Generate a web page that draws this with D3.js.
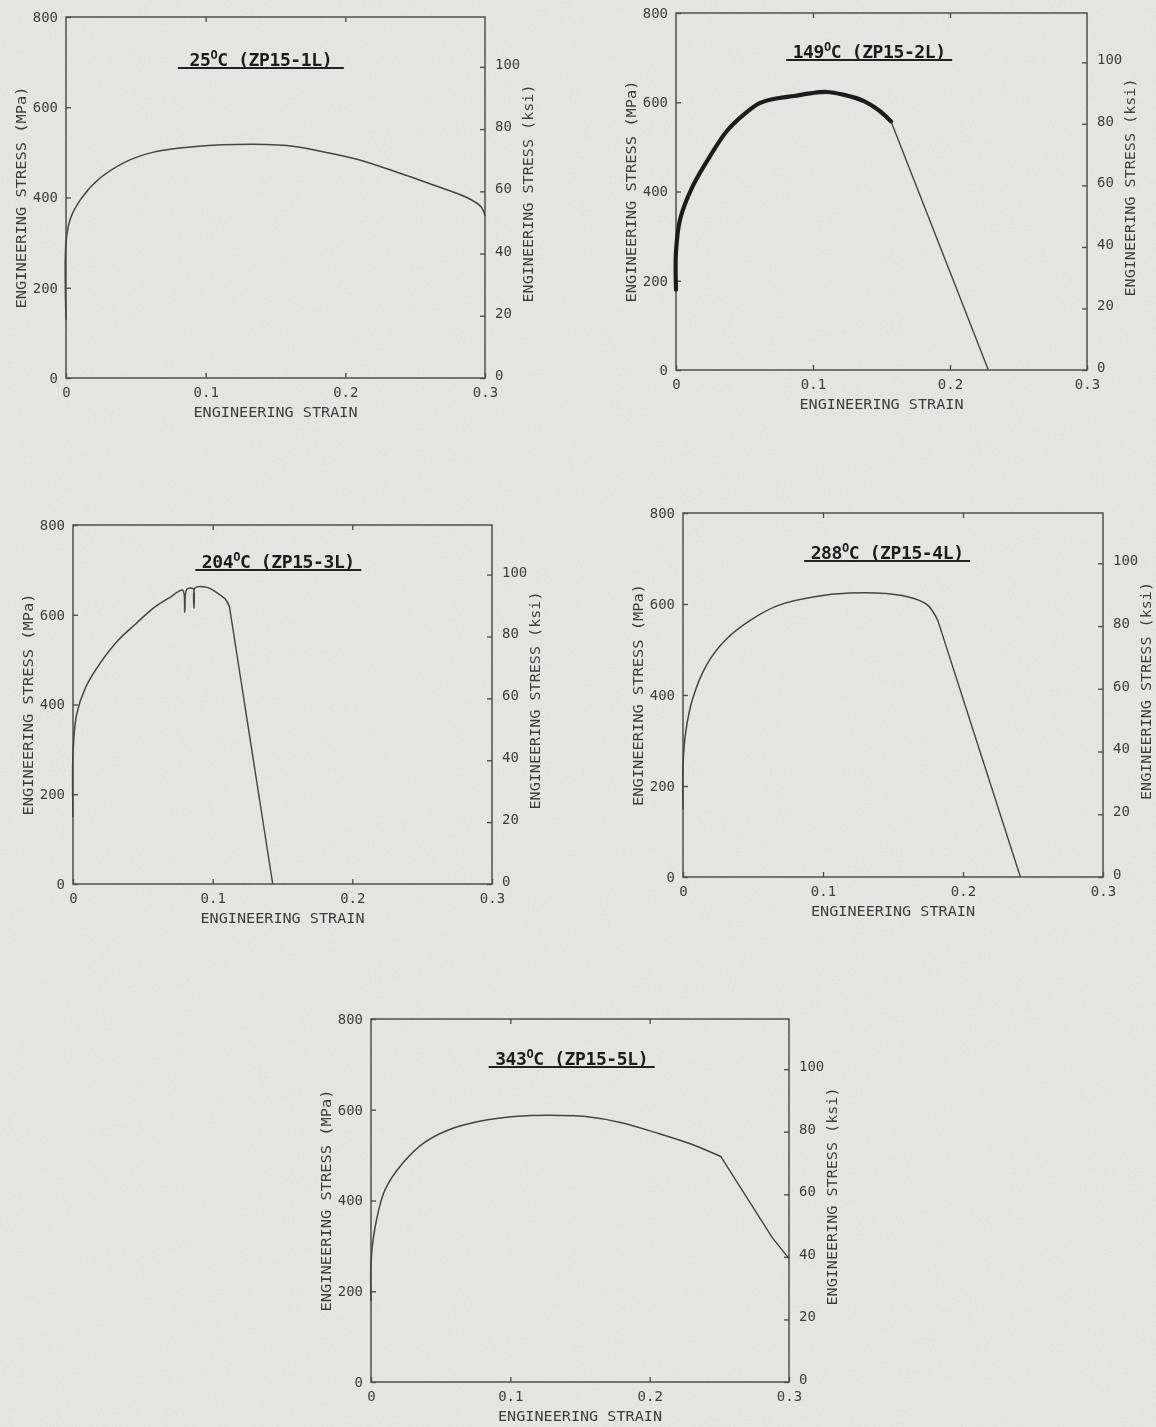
<!DOCTYPE html>
<html>
<head>
<meta charset="utf-8">
<script src="https://cdn.jsdelivr.net/npm/d3@7"></script>
<style>
  body { margin: 0; background: #e7e7e5; }
  svg { display: block; }
</style>
</head>
<body>
<svg id="chart" width="1156" height="1427"></svg>
<script>
// axis ticks
const strainTicks = [0, 0.1, 0.2, 0.3];
const mpaTicks = [0, 200, 400, 600, 800];
const ksiTicks = [0, 20, 40, 60, 80, 100];
const MPA_PER_KSI = 6.895;

// [engineering strain, engineering stress MPa]
const curve25 = [[0, 130], [0, 300], [0.003, 352], [0.011, 398], [0.024, 442], [0.042, 478], [0.062, 500],
  [0.093, 513], [0.132, 518], [0.158, 515], [0.183, 502], [0.209, 484], [0.235, 458], [0.261, 430],
  [0.287, 400], [0.297, 380], [0.300, 360]];
const curve149 = [[0, 180], [0, 265], [0.003, 338], [0.0124, 413], [0.025, 480], [0.037, 535], [0.049, 571],
  [0.061, 598], [0.074, 609], [0.086, 614], [0.098, 620], [0.110, 623], [0.122, 617], [0.1375, 602],
  [0.148, 582], [0.157, 557], [0.228, 0]];
const curve204 = [[0, 150], [0, 290], [0.0026, 378], [0.009, 438], [0.019, 490], [0.032, 542], [0.045, 580],
  [0.058, 616], [0.070, 640], [0.0785, 655], [0.080, 606], [0.0815, 657], [0.086, 658], [0.0866, 615],
  [0.0875, 660], [0.096, 661], [0.1016, 652], [0.109, 635], [0.112, 618], [0.143, 0]];
const curve288 = [[0, 150], [0, 245], [0.002, 320], [0.007, 393], [0.017, 467], [0.030, 520], [0.048, 564],
  [0.068, 597], [0.094, 616], [0.119, 624], [0.145, 623], [0.165, 612], [0.175, 597], [0.182, 564],
  [0.241, 0]];
const curve343 = [[0, 180], [0, 262], [0.0026, 335], [0.010, 423], [0.023, 483], [0.038, 527], [0.056, 556],
  [0.077, 574], [0.103, 585], [0.128, 588], [0.154, 585], [0.179, 572], [0.205, 549], [0.231, 523],
  [0.251, 497], [0.270, 405], [0.288, 318], [0.300, 272]];

// breakAt = strain where the smooth curve turns into a straight drop
const panels = [
  { temp: "25", spec: "ZP15-1L", data: curve25, left: 66, top: 17, right: 485, bottom: 378, tx: 0.465, ty: 49, breakAt: 1 },
  { temp: "149", spec: "ZP15-2L", data: curve149, left: 676, top: 13, right: 1087, bottom: 370, tx: 0.47, ty: 45, breakAt: 0.157, heavy: true },
  { temp: "204", spec: "ZP15-3L", data: curve204, left: 73, top: 525, right: 492, bottom: 884, tx: 0.49, ty: 43, breakAt: 0.112 },
  { temp: "288", spec: "ZP15-4L", data: curve288, left: 683, top: 513, right: 1103, bottom: 877, tx: 0.486, ty: 46, breakAt: 0.182 },
  { temp: "343", spec: "ZP15-5L", data: curve343, left: 371, top: 1019, right: 789, bottom: 1382, tx: 0.48, ty: 46, breakAt: 0.251 }
];

const FONT = "'DejaVu Sans Mono', 'Liberation Mono', monospace";
const INK = "#3e3e3e";

const svg = d3.select("#chart");

// scanned paper look
const defs = svg.append("defs");
const grain = defs.append("filter").attr("id", "grain");
grain.append("feTurbulence").attr("type", "fractalNoise").attr("baseFrequency", 0.85)
  .attr("numOctaves", 2).attr("seed", 4);
grain.append("feColorMatrix").attr("type", "matrix")
  .attr("values", "0 0 0 0 0.4  0 0 0 0 0.4  0 0 0 0 0.4  0 0 0 0.22 -0.06");
defs.append("filter").attr("id", "soft")
  .append("feGaussianBlur").attr("stdDeviation", 0.45);

svg.append("rect").attr("width", 1156).attr("height", 1427).attr("fill", "#e7e7e5");
svg.append("rect").attr("width", 1156).attr("height", 1427).attr("filter", "url(#grain)");

const root = svg.append("g").attr("filter", "url(#soft)");

const fmtStrain = d => d === 0 ? "0" : d3.format(".1f")(d);

panels.forEach(p => {
  const w = p.right - p.left, h = p.bottom - p.top;
  const g = root.append("g").attr("transform", `translate(${p.left},${p.top})`);

  const x = d3.scaleLinear().domain([0, 0.3]).range([0, w]);
  const y = d3.scaleLinear().domain([0, 800]).range([h, 0]);
  const yk = d3.scaleLinear().domain([0, 800 / MPA_PER_KSI]).range([h, 0]);

  // frame
  g.append("rect").attr("width", w).attr("height", h)
    .attr("fill", "none").attr("stroke", "#505050").attr("stroke-width", 1.5);

  const styleAxis = sel => {
    sel.select(".domain").remove();
    sel.attr("font-family", FONT).attr("font-size", 14);
    sel.selectAll(".tick line").attr("stroke", "#505050").attr("stroke-width", 1.4);
    sel.selectAll(".tick text").attr("fill", INK);
  };

  g.append("g")
    .call(d3.axisLeft(y).tickValues(mpaTicks).tickSizeInner(-5).tickSizeOuter(0).tickPadding(8))
    .call(styleAxis);

  // ksi labels sit a little above their ticks, as in the scan
  g.append("g").attr("transform", `translate(${w},0)`)
    .call(d3.axisRight(yk).tickValues(ksiTicks).tickSizeInner(-5).tickSizeOuter(0).tickPadding(10))
    .call(styleAxis)
    .call(s => s.selectAll(".tick text").attr("y", -3));

  g.append("g").attr("transform", `translate(0,${h})`)
    .call(d3.axisBottom(x).tickValues(strainTicks).tickFormat(fmtStrain)
      .tickSizeInner(-5).tickSizeOuter(0).tickPadding(9))
    .call(styleAxis);

  g.append("g")
    .call(d3.axisTop(x).tickValues([0.1, 0.2]).tickFormat("").tickSizeInner(-5).tickSizeOuter(0))
    .call(styleAxis);

  // axis titles
  g.append("text")
    .attr("transform", `translate(${-45},${h / 2}) rotate(-90)`)
    .attr("text-anchor", "middle").attr("dy", "0.35em")
    .attr("font-family", FONT).attr("font-size", 14).attr("fill", INK)
    .attr("textLength", 222).attr("lengthAdjust", "spacingAndGlyphs")
    .text("ENGINEERING STRESS (MPa)");

  g.append("text")
    .attr("transform", `translate(${w + 43},${h / 2 - 4}) rotate(-90)`)
    .attr("text-anchor", "middle").attr("dy", "0.35em")
    .attr("font-family", FONT).attr("font-size", 14).attr("fill", INK)
    .attr("textLength", 218).attr("lengthAdjust", "spacingAndGlyphs")
    .text("ENGINEERING STRESS (ksi)");

  g.append("text")
    .attr("x", w / 2).attr("y", h + 39)
    .attr("text-anchor", "middle")
    .attr("font-family", FONT).attr("font-size", 14).attr("fill", INK)
    .attr("textLength", 164).attr("lengthAdjust", "spacingAndGlyphs")
    .text("ENGINEERING STRAIN");

  // underlined title
  const tcx = w * p.tx;
  const title = g.append("text")
    .attr("x", tcx).attr("y", p.ty)
    .attr("text-anchor", "middle")
    .attr("font-family", FONT).attr("font-weight", "bold").attr("font-size", 18).attr("fill", "#1a1a1a")
    .attr("letter-spacing", -0.4);
  title.append("tspan").text(p.temp);
  title.append("tspan").attr("dy", -7).attr("font-size", 12).text("O");
  title.append("tspan").attr("dy", 7).text(`C (${p.spec})`);
  g.append("line")
    .attr("x1", tcx - 83).attr("x2", tcx + 83)
    .attr("y1", p.ty + 2).attr("y2", p.ty + 2)
    .attr("stroke", "#222").attr("stroke-width", 2.2);

  // curve: smooth part, then a straight tail after breakAt
  const smoothLine = d3.line()
    .x(d => x(d[0])).y(d => y(d[1]))
    .curve(d3.curveCatmullRom.alpha(0.5));
  const straightLine = d3.line()
    .x(d => x(d[0])).y(d => y(d[1]));

  const smooth = p.data.filter(d => d[0] <= p.breakAt);
  const tail = p.data.filter(d => d[0] >= p.breakAt);

  g.append("path").attr("d", smoothLine(smooth))
    .attr("fill", "none")
    .attr("stroke", p.heavy ? "#1e1e1e" : "#444")
    .attr("stroke-width", p.heavy ? 4.2 : 1.5)
    .attr("stroke-linejoin", "round").attr("stroke-linecap", "round");
  if (tail.length > 1) {
    g.append("path").attr("d", straightLine(tail))
      .attr("fill", "none").attr("stroke", "#444").attr("stroke-width", 1.4);
  }
});
</script>
</body>
</html>
